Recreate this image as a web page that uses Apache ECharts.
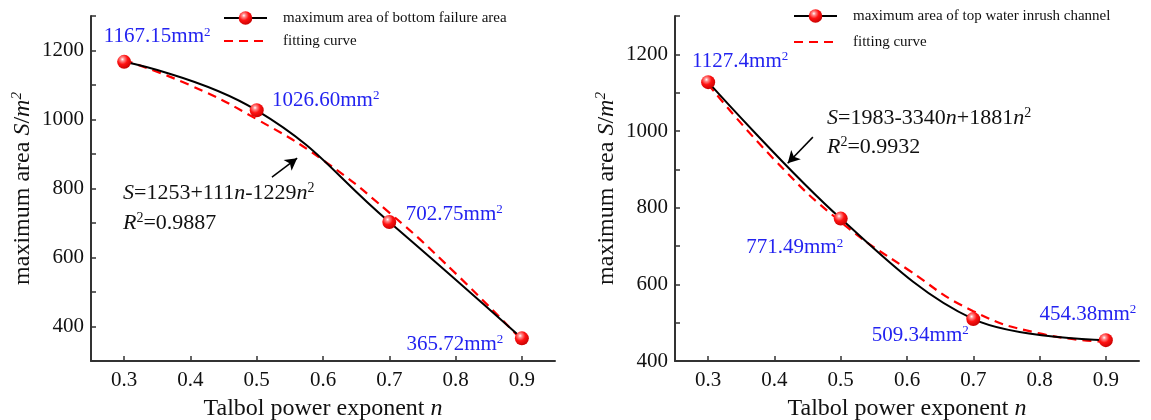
<!DOCTYPE html>
<html>
<head>
<meta charset="utf-8">
<script src="https://cdn.jsdelivr.net/npm/echarts@6/dist/echarts.min.js"></script>
<style>
  html, body { margin: 0; padding: 0; background: #fff; }
  #chart { width: 1151px; height: 420px; }
</style>
</head>
<body>
<div id="chart"></div>
<script>
// Talbol power exponent n at which the areas were measured
const nValues = [0.3, 0.5, 0.7, 0.9];
// maximum area of bottom failure area (mm^2)
const bottomArea = [1167.15, 1026.60, 702.75, 365.72];
const bottomLabelDecimals = [2, 2, 2, 2];
// maximum area of top water inrush channel (mm^2)
const topArea = [1127.4, 771.49, 509.34, 454.38];
const topLabelDecimals = [1, 2, 2, 2];
// fitting curves sampled along n
const fitN = [0.3, 0.4, 0.5, 0.6, 0.7, 0.8, 0.9];
const bottomFit = [1172, 1099, 1001, 882, 730, 554, 360];
const topFit = [1122, 925, 763, 640, 530, 472, 450];
// axis tick values
const xTicks = [0.3, 0.4, 0.5, 0.6, 0.7, 0.8, 0.9];

const FONT = "'Liberation Serif','Times New Roman',serif";
const AXIS_COLOR = '#333';
const TEXT_COLOR = '#111';
const BLUE = '#2323f0';

const sphere = {
  type: 'radial', x: 0.38, y: 0.32, r: 0.72,
  colorStops: [
    { offset: 0, color: '#ffffff' },
    { offset: 0.18, color: '#ff8c8c' },
    { offset: 0.5, color: '#ff1212' },
    { offset: 1, color: '#c40000' }
  ]
};

function pairs(xs, ys) { return xs.map((x, i) => [x, ys[i]]); }

function pointData(values, decimals, offsets) {
  return values.map((v, i) => ({
    value: [nValues[i], v],
    decimals: decimals[i],
    label: { offset: offsets[i] }
  }));
}

const labelRich = {
  v: { fontSize: 21, fontFamily: FONT, color: BLUE, lineHeight: 22 },
  s: { fontSize: 13, fontFamily: FONT, color: BLUE, verticalAlign: 'top', lineHeight: 13 }
};

function valueLabel(p) {
  return '{v|' + p.value[1].toFixed(p.data.decimals) + 'mm}{s|2}';
}

function xAxis(gridIndex) {
  return {
    type: 'value', gridIndex, min: 0.25, max: 0.95,
    name: '{t|Talbol power exponent }{i|n}',
    nameLocation: 'middle', nameGap: 36,
    nameTextStyle: {
      rich: {
        t: { fontSize: 24, fontFamily: FONT, color: TEXT_COLOR },
        i: { fontSize: 24, fontFamily: FONT, fontStyle: 'italic', color: TEXT_COLOR }
      }
    },
    axisLine: { show: true, lineStyle: { color: AXIS_COLOR, width: 2 } },
    axisTick: { show: true, inside: true, length: 5, customValues: xTicks, lineStyle: { color: AXIS_COLOR, width: 1.5 } },
    axisLabel: {
      customValues: xTicks, margin: 9,
      fontSize: 21, fontFamily: FONT, color: TEXT_COLOR,
      formatter: v => v.toFixed(1)
    },
    splitLine: { show: false }
  };
}

function yAxis(gridIndex, min, nameGap) {
  return {
    type: 'value', gridIndex, min: min, max: 1300, interval: 100,
    name: '{t|maximum area }{i|S}{t|/}{i|m}{s|2}',
    nameLocation: 'middle', nameGap: nameGap,
    nameTextStyle: {
      rich: {
        t: { fontSize: 24, fontFamily: FONT, color: TEXT_COLOR, lineHeight: 26 },
        i: { fontSize: 24, fontFamily: FONT, fontStyle: 'italic', color: TEXT_COLOR, lineHeight: 26 },
        s: { fontSize: 15, fontFamily: FONT, fontStyle: 'italic', color: TEXT_COLOR, verticalAlign: 'top', lineHeight: 15 }
      }
    },
    axisLine: { show: true, lineStyle: { color: AXIS_COLOR, width: 2 } },
    axisTick: { show: true, inside: true, length: 5, lineStyle: { color: AXIS_COLOR, width: 1.5 } },
    axisLabel: {
      margin: 7, fontSize: 21, fontFamily: FONT, color: TEXT_COLOR,
      formatter: v => (v % 200 === 0 ? String(v) : '')
    },
    splitLine: { show: false }
  };
}

function measuredSeries(name, idx, values, decimals, offsets, smooth) {
  return {
    name, type: 'line', xAxisIndex: idx, yAxisIndex: idx, z: 3,
    smooth: smooth,
    data: pointData(values, decimals, offsets),
    symbol: 'circle', symbolSize: 14,
    itemStyle: { color: sphere, borderWidth: 0 },
    lineStyle: { color: '#000', width: 2 },
    label: { show: true, position: 'inside', formatter: valueLabel, rich: labelRich },
    emphasis: { disabled: true }
  };
}

function fitSeries(idx, values, arrow) {
  return {
    name: 'fitting curve', type: 'line', xAxisIndex: idx, yAxisIndex: idx, z: 2,
    smooth: 0.5, symbol: 'none',
    data: pairs(fitN, values),
    itemStyle: { color: '#ff0000' },
    lineStyle: { color: '#ff0000', width: 2.2, type: [9, 6] },
    markLine: {
      silent: true, animation: false,
      symbol: ['none', 'arrow'], symbolSize: [10, 12],
      lineStyle: { color: '#000', width: 1.5, type: 'solid' },
      label: { show: false },
      data: [[{ coord: arrow[0] }, { coord: arrow[1] }]]
    },
    emphasis: { disabled: true }
  };
}

// the fitting curve entry shows only its dashed line, no marker
const hiddenMarker = { color: 'rgba(0,0,0,0)', borderColor: 'rgba(0,0,0,0)', borderWidth: 0, opacity: 0 };

function legend(left, top, gap, mainName) {
  return {
    left, top, padding: 0, orient: 'vertical', itemGap: gap,
    itemWidth: 43, itemHeight: 17,
    selectedMode: false,
    data: [mainName, { name: 'fitting curve', itemStyle: hiddenMarker }],
    textStyle: { fontSize: 15, fontFamily: FONT, color: TEXT_COLOR, lineHeight: 16, padding: [0, 0, 0, 11] }
  };
}

const eqRich = {
  t: { fontSize: 22, fontFamily: FONT, fill: TEXT_COLOR, lineHeight: 24 },
  i: { fontSize: 22, fontFamily: FONT, fontStyle: 'italic', fill: TEXT_COLOR, lineHeight: 24 },
  s: { fontSize: 14, fontFamily: FONT, fill: TEXT_COLOR, verticalAlign: 'top', lineHeight: 14 }
};

function eqText(x, y, text) {
  return {
    type: 'text', x, y, silent: true,
    style: { text, rich: eqRich, textVerticalAlign: 'middle', textAlign: 'left' }
  };
}

const chart = echarts.init(document.getElementById('chart'), null, { renderer: 'canvas' });
chart.setOption({
  animation: false,
  backgroundColor: '#fff',
  grid: [
    { left: 91, top: 16, width: 464, height: 345, outerBoundsMode: 'none' },
    { left: 675, top: 16, width: 464, height: 345, outerBoundsMode: 'none' }
  ],
  xAxis: [xAxis(0), xAxis(1)],
  yAxis: [yAxis(0, 300, 55), yAxis(1, 400, 55)],
  legend: [
    legend(223, 10, 7, 'maximum area of bottom failure area'),
    legend(793, 8, 10, 'maximum area of top water inrush channel')
  ],
  series: [
    fitSeries(0, bottomFit, [[0.523, 833], [0.561, 888]]),
    measuredSeries('maximum area of bottom failure area', 0, bottomArea, bottomLabelDecimals,
      [[33, -25], [69, -10], [65, -8], [-67, 6]], 0.45),
    fitSeries(1, topFit, [[0.458, 984], [0.420, 916]]),
    measuredSeries('maximum area of top water inrush channel', 1, topArea, topLabelDecimals,
      [[32, -21], [-46, 29], [-53, 16], [-18, -26]], 0.35)
  ],
  graphic: [
    eqText(123, 193, '{i|S}{t|=1253+111}{i|n}{t|-1229}{i|n}{s|2}'),
    eqText(123, 223, '{i|R}{s|2}{t|=0.9887}'),
    eqText(827, 118, '{i|S}{t|=1983-3340}{i|n}{t|+1881}{i|n}{s|2}'),
    eqText(827, 147, '{i|R}{s|2}{t|=0.9932}')
  ]
});
</script>
</body>
</html>
